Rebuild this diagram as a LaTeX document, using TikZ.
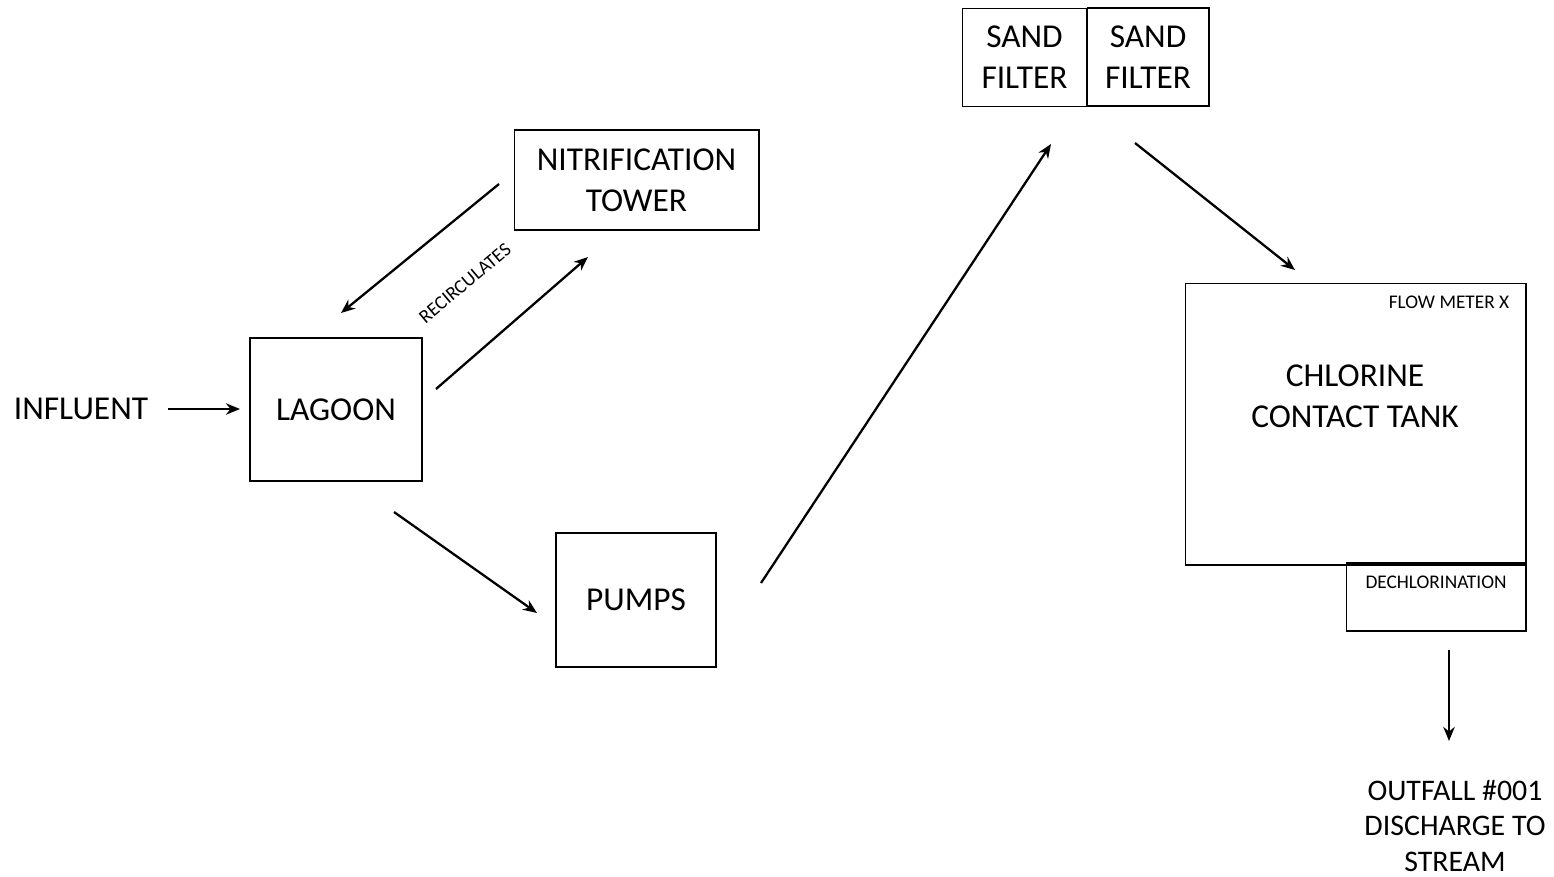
\documentclass[tikz,border=0pt]{standalone}
\usepackage{fontspec}
\setmainfont{Carlito}
\usetikzlibrary{arrows.meta}
\begin{document}
\begin{tikzpicture}[x=0.02cm,y=-0.02cm,
  box/.style={draw,line width=0.6pt,inner sep=0pt,align=center,font=\fontsize{19}{23.5}\selectfont},
  big/.style={align=center,font=\fontsize{19}{23.5}\selectfont,inner sep=0pt},
  small/.style={font=\fontsize{11}{13}\selectfont,inner sep=0pt},
  flow/.style={line width=1.3pt,-{Stealth[length=8pt,width=6.5pt]}}]
\useasboundingbox (0,0) rectangle (1554,876);
% boxes
\node[box,minimum width=3.44cm,minimum height=2.86cm] (lagoon) at (336,409.5) {LAGOON};
\node[box,minimum width=4.9cm,minimum height=2.0cm] (tower) at (636.5,180) {NITRIFICATION\\TOWER};
\node[box,minimum width=3.2cm,minimum height=2.68cm,text depth=-0.14cm] (pumps) at (636,600) {PUMPS};
\node[box,minimum width=2.5cm,minimum height=1.96cm] (sand1) at (1024.5,57.5) {SAND\\FILTER};
\node[box,minimum width=2.44cm,minimum height=1.96cm] (sand2) at (1148,57) {SAND\\FILTER};
\node[draw,line width=0.6pt,minimum width=6.82cm,minimum height=5.64cm,inner sep=0pt] (tank) at (1355.5,424) {};
\node[draw,line width=0.6pt,minimum width=3.6cm,minimum height=1.36cm,inner sep=0pt] (dechl) at (1436,597) {};
% texts
\node[big] (tanktext) at (1355,396) {CHLORINE\\CONTACT TANK};
\node[small] (flowmeter) at (1449,302) {FLOW METER X};
\node[small] (dechltext) at (1436,582) {DECHLORINATION};
\node[big] (influent) at (81,409) {INFLUENT};
\node[align=center,inner sep=0pt,font=\fontsize{17}{20}\selectfont] (outfall) at (1455,826) {OUTFALL \#001\\DISCHARGE TO\\STREAM};
\node[rotate=40,inner sep=0pt,font=\fontsize{11}{13}\selectfont] (recirc) at (465,283) {RECIRCULATES};
% connector endpoints
\coordinate (i1) at (168,409); \coordinate (i2) at (240,409);
\coordinate (t1) at (499,184); \coordinate (t2) at (341,313);
\coordinate (l1) at (436,389); \coordinate (l2) at (588,257);
\coordinate (p1) at (394,512); \coordinate (p2) at (537,613);
\coordinate (s1) at (761,583); \coordinate (s2) at (1051,144);
\coordinate (c1) at (1135,143); \coordinate (c2) at (1295,270);
\coordinate (o1) at (1449,650); \coordinate (o2) at (1449,741);
\draw[flow] (i1) -- (i2);
\draw[flow] (t1) -- (t2);
\draw[flow] (l1) -- (l2);
\draw[flow] (p1) -- (p2);
\draw[flow] (s1) -- (s2);
\draw[flow] (c1) -- (c2);
\draw[flow] (o1) -- (o2);
\end{tikzpicture}
\end{document}
